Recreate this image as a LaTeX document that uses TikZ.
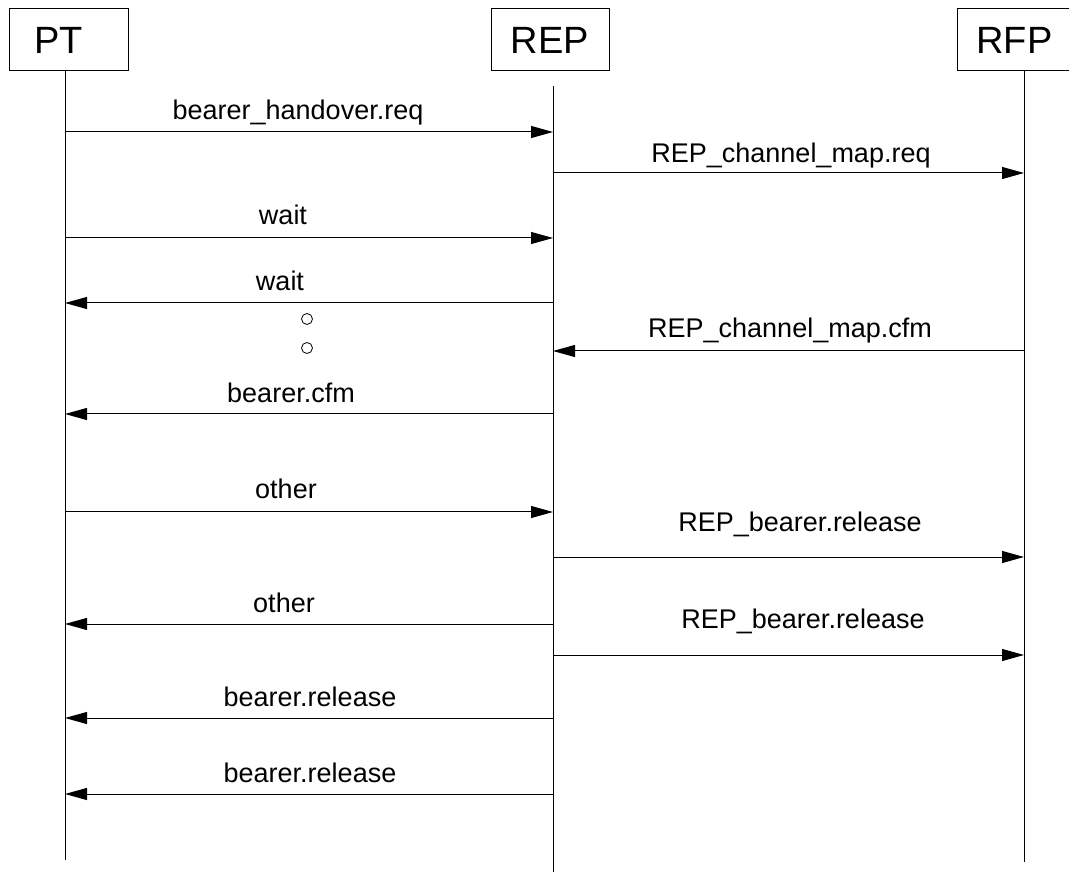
\documentclass[tikz,border=0pt]{standalone}
\usepackage{fontspec}
\setmainfont{Liberation Sans}
\usetikzlibrary{arrows.meta}

\begin{document}
\begin{tikzpicture}[x=1pt, y=-1pt, line width=1pt,
        head/.style={draw, rectangle, minimum height=62pt, inner sep=0pt, font=\fontsize{38}{44}\selectfont},
        msg/.style={-{Triangle[length=22pt, width=12pt]}},
        lbl/.style={anchor=base, inner sep=0pt, font=\fontsize{27}{32}\selectfont},
        dot/.style={circle, draw, minimum size=11pt, inner sep=0pt, line width=0.8pt}]
    \useasboundingbox (0,0) rectangle (1069,874);

    % heads
    \node[head, minimum width=119pt] (pt) at (68.5,40) {PT\hspace{20pt}\null};
    \node[head, minimum width=118pt] (rep) at (550,40) {REP};
    \node[head, minimum width=115pt] (rfp) at (1014.5,40) {RFP};

    % lifelines
    \coordinate (ptend) at (65,860);
    \coordinate (reptop) at (553,86);
    \coordinate (repend) at (553,872);
    \coordinate (rfpend) at (1024,862);
    \draw (pt.south -| ptend) -- (ptend);
    \draw (reptop) -- (repend);
    \draw (rfp.south -| rfpend) -- (rfpend);

    % message ends
    \coordinate (pt1) at (65,132);   \coordinate (rep1) at (553,132);
    \coordinate (rep2) at (553,173); \coordinate (rfp2) at (1024,173);
    \coordinate (pt3) at (65,238);   \coordinate (rep3) at (553,238);
    \coordinate (pt4) at (65,303);   \coordinate (rep4) at (553,303);
    \coordinate (rep6) at (553,351); \coordinate (rfp6) at (1024,351);
    \coordinate (pt7) at (65,414);   \coordinate (rep7) at (553,414);
    \coordinate (pt8) at (65,512);   \coordinate (rep8) at (553,512);
    \coordinate (rep9) at (553,557); \coordinate (rfp9) at (1024,557);
    \coordinate (pt10) at (65,624);  \coordinate (rep10) at (553,624);
    \coordinate (rep11) at (553,655); \coordinate (rfp11) at (1024,655);
    \coordinate (pt12) at (65,718);  \coordinate (rep12) at (553,718);
    \coordinate (pt13) at (65,794);  \coordinate (rep13) at (553,794);

    % messages
    \draw[msg] (pt1) -- (rep1);
    \node[lbl] (l1) at (298,120) {bearer\_handover.req};
    \draw[msg] (rep2) -- (rfp2);
    \node[lbl] (l2) at (791,163) {REP\_channel\_map.req};
    \draw[msg] (pt3) -- (rep3);
    \node[lbl] (l3) at (283,225) {wait};
    \draw[msg] (rep4) -- (pt4);
    \node[lbl] (l4) at (280,291) {wait};
    \node[dot] (o1) at (307,319) {};
    \node[dot] (o2) at (307,348) {};
    \draw[msg] (rfp6) -- (rep6);
    \node[lbl] (l6) at (790,338) {REP\_channel\_map.cfm};
    \draw[msg] (rep7) -- (pt7);
    \node[lbl] (l7) at (291,403) {bearer.cfm};
    \draw[msg] (pt8) -- (rep8);
    \node[lbl] (l8) at (286,499) {other};
    \draw[msg] (rep9) -- (rfp9);
    \node[lbl] (l9) at (800,532) {REP\_bearer.release};
    \draw[msg] (rep10) -- (pt10);
    \node[lbl] (l10) at (284,612) {other};
    \draw[msg] (rep11) -- (rfp11);
    \node[lbl] (l11) at (803,628) {REP\_bearer.release};
    \draw[msg] (rep12) -- (pt12);
    \node[lbl] (l12) at (310,706) {bearer.release};
    \draw[msg] (rep13) -- (pt13);
    \node[lbl] (l13) at (310,782) {bearer.release};
\end{tikzpicture}
\end{document}
